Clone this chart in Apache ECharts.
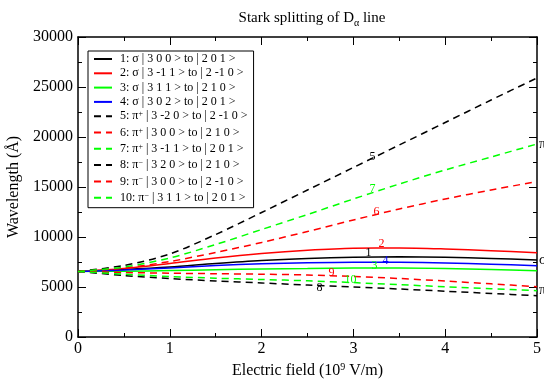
<!DOCTYPE html>
<html>
<head>
<meta charset="utf-8">
<script src="https://cdn.jsdelivr.net/npm/echarts@6/dist/echarts.min.js"></script>
<style>html,body{margin:0;padding:0;background:#fff}#c{width:544px;height:380px}</style>
</head>
<body>
<div id="c"></div>
<script>
// Electric field (10^9 V/m)
const fields = [0, 0.5, 1.0, 1.5, 2.0, 2.5, 3.0, 3.5, 4.0, 4.5, 5.0];
// Wavelength (Å) per transition
const s1  = [6560, 6750, 7000, 7350, 7650, 7850, 7970, 8020, 7980, 7860, 7700];
const s2  = [6560, 6850, 7350, 7900, 8350, 8680, 8880, 8900, 8800, 8630, 8430];
const s3  = [6560, 6580, 6640, 6730, 6810, 6860, 6900, 6900, 6850, 6750, 6630];
const s4  = [6560, 6700, 6900, 7150, 7330, 7430, 7480, 7470, 7400, 7280, 7130];
const s5  = [6560, 7150, 8300, 10250, 12450, 14700, 16950, 19200, 21450, 23700, 25900];
const s6  = [6560, 6900, 7550, 8450, 9450, 10550, 11700, 12800, 13800, 14700, 15550];
const s7  = [6560, 7000, 7900, 9250, 10750, 12250, 13800, 15300, 16700, 18000, 19300];
const s8  = [6560, 6150, 5850, 5600, 5400, 5200, 5000, 4800, 4580, 4360, 4130];
const s9  = [6560, 6450, 6380, 6330, 6280, 6200, 6050, 5850, 5600, 5320, 5030];
const s10 = [6560, 6280, 6050, 5880, 5750, 5620, 5440, 5230, 5030, 4830, 4630];

const legendPrefix = ['1: σ', '2: σ', '3: σ', '4: σ', '5: π', '6: π', '7: π', '8: π', '9: π', '10: π'];
const legendSup = ['', '', '', '', '+', '+', '+', '−', '−', '−'];
const legendRest = [
  ' | 3 0 0 > to | 2 0 1 >',
  ' | 3 -1 1 > to | 2 -1 0 >',
  ' | 3 1 1 > to | 2 1 0 >',
  ' | 3 0 2 > to | 2 0 1 >',
  ' | 3 -2 0 > to | 2 -1 0 >',
  ' | 3 0 0 > to | 2 1 0 >',
  ' | 3 -1 1 > to | 2 0 1 >',
  ' | 3 2 0 > to | 2 1 0 >',
  ' | 3 0 0 > to | 2 -1 0 >',
  ' | 3 1 1 > to | 2 0 1 >'
];
const curveLabels = ['1', '2', '3', '4', '5', '6', '7', '8', '9', '10'];
const endLabels = ['σ', '', '', '', '', '', 'π', '', '', 'π'];
const xTicks = [0, 1, 2, 3, 4, 5];
const yTicks = [0, 5000, 10000, 15000, 20000, 25000, 30000];

const allSeries = [s1, s2, s3, s4, s5, s6, s7, s8, s9, s10];
const colors = ['#000000', '#ff0000', '#00ff00', '#0000ff', '#000000', '#ff0000', '#00ff00', '#000000', '#ff0000', '#00ff00'];
const dashed = [false, false, false, false, true, true, true, true, true, true];
// label anchor index and pixel offsets (styling)
const labelIdx = [6, 6, 6, 6, 6, 6, 6, 5, 5, 6];
const labelOff = [[15, -4], [28, -4], [21, -2], [32, -1], [19, -11], [23, -8], [19, -10], [12, 3], [24, -2], [-3, -3]];

const serif = 'Liberation Serif';
const names = legendPrefix.map((p, i) => p + legendSup[i] + legendRest[i]);

const series = allSeries.map((vals, k) => ({
  name: names[k],
  type: 'line',
  xAxisIndex: 0,
  yAxisIndex: 0,
  symbol: 'circle',
  symbolSize: 2,
  showSymbol: true,
  smooth: 0.3,
  silent: true,
  lineStyle: { color: colors[k], width: 1.5, type: dashed[k] ? [7, 5] : 'solid' },
  itemStyle: { color: 'rgba(0,0,0,0)', borderWidth: 0 },
  label: { show: false },
  data: fields.map((f, i) => {
    const d = { value: [f, vals[i]] };
    if (i === labelIdx[k]) {
      d.label = {
        show: true, position: 'inside', formatter: curveLabels[k],
        offset: labelOff[k], color: colors[k], fontFamily: serif, fontSize: 12
      };
    }
    return d;
  }),
  endLabel: endLabels[k] ? {
    show: true, formatter: endLabels[k], color: '#000', fontFamily: serif, fontSize: 14, distance: 2
  } : { show: false }
}));

function axisBase() {
  return {
    type: 'value',
    axisLine: { show: true, onZero: false, lineStyle: { color: '#000', width: 1.5 } },
    axisTick: { show: true, inside: true, length: 8, lineStyle: { color: '#000', width: 1 } },
    minorTick: { show: true, splitNumber: 2, length: 4, lineStyle: { color: '#000', width: 1 } },
    splitLine: { show: false },
    minorSplitLine: { show: false }
  };
}

const chart = echarts.init(document.getElementById('c'), null, { renderer: 'canvas' });
chart.setOption({
  backgroundColor: '#fff',
  animation: false,
  title: {
    text: '{a|Stark splitting of D}{s|α}{a| line}',
    left: 307, textAlign: 'center', top: 3,
    textStyle: {
      fontWeight: 'normal',
      rich: {
        a: { fontFamily: serif, fontSize: 15, fontWeight: 'normal', color: '#000', lineHeight: 20 },
        s: { fontFamily: serif, fontSize: 10, fontWeight: 'normal', color: '#000', verticalAlign: 'bottom', lineHeight: 12, padding: [8, 0, 0, 0] }
      }
    }
  },
  grid: { left: 78, right: 7, top: 37, bottom: 43, containLabel: false, outerBoundsMode: 'none' },
  legend: {
    orient: 'vertical', left: 88, top: 51,
    itemWidth: 18, itemHeight: 10, itemGap: 2.3,
    padding: [2, 6, 2, 5],
    backgroundColor: '#fff', borderColor: '#000', borderWidth: 1, borderRadius: 0,
    selectedMode: false,
    itemStyle: { opacity: 0 },
    data: names,
    formatter: function (name) {
      const i = names.indexOf(name);
      let s = '{n|' + legendPrefix[i] + '}';
      if (legendSup[i]) s += '{p|' + legendSup[i] + '}';
      s += '{n|' + legendRest[i] + '}';
      return s;
    },
    textStyle: {
      padding: [0, 0, 0, 3],
      rich: {
        n: { fontFamily: serif, fontSize: 12, color: '#000', lineHeight: 12 },
        p: { fontFamily: serif, fontSize: 8, color: '#000', lineHeight: 12, verticalAlign: 'top', padding: [0, 0, 6, 0] }
      }
    }
  },
  xAxis: [
    Object.assign(axisBase(), {
      position: 'bottom', min: xTicks[0], max: xTicks[xTicks.length - 1], interval: 1,
      axisLabel: { show: true, color: '#000', fontFamily: serif, fontSize: 16, margin: 4, formatter: v => String(v) },
      name: '{a|Electric field (10}{p|9}{a| V/m)}',
      nameLocation: 'middle', nameGap: 21,
      nameTextStyle: {
        rich: {
          a: { fontFamily: serif, fontSize: 16, color: '#000', lineHeight: 18 },
          p: { fontFamily: serif, fontSize: 10, color: '#000', verticalAlign: 'top', lineHeight: 18, padding: [0, 0, 8, 0] }
        }
      }
    }),
    Object.assign(axisBase(), {
      position: 'top', min: xTicks[0], max: xTicks[xTicks.length - 1], interval: 1,
      axisLabel: { show: false }
    })
  ],
  yAxis: [
    Object.assign(axisBase(), {
      position: 'left', min: yTicks[0], max: yTicks[yTicks.length - 1], interval: 5000,
      axisLabel: { show: true, color: '#000', fontFamily: serif, fontSize: 16, margin: 5, formatter: v => String(v) },
      name: 'Wavelength (Å)', nameLocation: 'middle', nameGap: 54, nameRotate: 90,
      nameTextStyle: { fontFamily: serif, fontSize: 16, color: '#000' }
    }),
    Object.assign(axisBase(), {
      position: 'right', min: yTicks[0], max: yTicks[yTicks.length - 1], interval: 5000,
      axisLabel: { show: false }
    })
  ],
  series: series
});
</script>
</body>
</html>
